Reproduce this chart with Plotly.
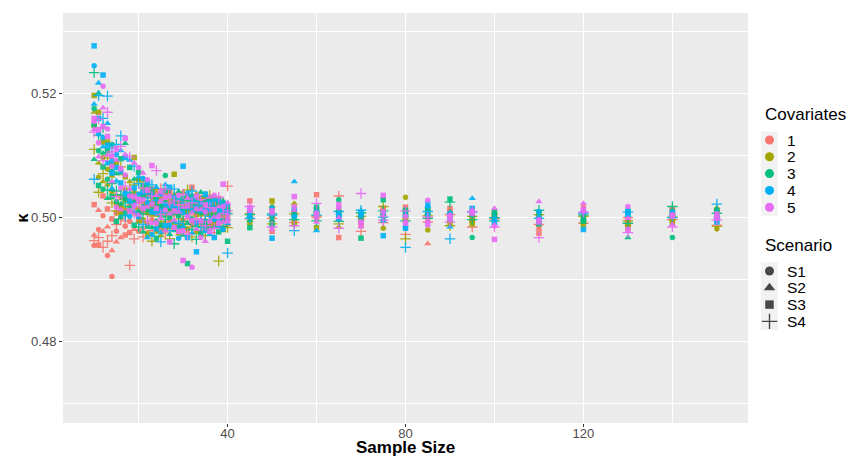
import plotly.graph_objects as go

# ---------------- data ----------------
sample_sizes = list(range(10, 41)) + [45, 50, 55, 60, 65, 70, 75, 80, 85, 90, 95, 100,
                                      110, 120, 130, 140, 150]
covariates = ["1", "2", "3", "4", "5"]
scenarios = ["S1", "S2", "S3", "S4"]

# each list: 20 kappa estimates ordered cov1 S1..S4, cov2 S1..S4, ..., cov5 S1..S4
kappa_n10 = [0.4955, 0.4972, 0.5021, 0.4963, 0.5148, 0.5170, 0.5197, 0.5110, 0.5176, 0.5094, 0.5150, 0.5234, 0.5245, 0.5183, 0.5277, 0.5062, 0.5155, 0.5142, 0.5160, 0.5138]
kappa_n11 = [0.4981, 0.5012, 0.4956, 0.4968, 0.5065, 0.5088, 0.5170, 0.5041, 0.5108, 0.5201, 0.5052, 0.5133, 0.5135, 0.5217, 0.5160, 0.5197, 0.5121, 0.5098, 0.5142, 0.5159]
kappa_n12 = [0.5003, 0.4978, 0.5035, 0.4952, 0.5097, 0.5058, 0.5122, 0.5071, 0.5046, 0.5104, 0.5082, 0.5145, 0.5129, 0.5114, 0.5230, 0.5160, 0.5212, 0.5177, 0.5147, 0.5092]
kappa_n13 = [0.4939, 0.4985, 0.5014, 0.4962, 0.5078, 0.5053, 0.5122, 0.5096, 0.5062, 0.5031, 0.5108, 0.5044, 0.5088, 0.5152, 0.5117, 0.5196, 0.5143, 0.5101, 0.5131, 0.5170]
kappa_n14 = [0.4905, 0.4947, 0.4998, 0.4971, 0.5042, 0.5067, 0.5085, 0.5024, 0.5118, 0.5076, 0.5034, 0.5055, 0.5091, 0.5047, 0.5072, 0.5112, 0.5083, 0.5058, 0.5099, 0.5106]
kappa_n15 = [0.4978, 0.4961, 0.5008, 0.4989, 0.5022, 0.5036, 0.5089, 0.5011, 0.5026, 0.5071, 0.4994, 0.5043, 0.5102, 0.5059, 0.5081, 0.5118, 0.5017, 0.5093, 0.5111, 0.5034]
kappa_n16 = [0.5032, 0.4968, 0.5017, 0.4998, 0.5008, 0.5071, 0.5019, 0.5082, 0.5001, 0.5022, 0.5095, 0.5037, 0.5074, 0.5108, 0.5056, 0.5132, 0.5048, 0.5013, 0.5079, 0.5115]
kappa_n17 = [0.4986, 0.5013, 0.4972, 0.4995, 0.5045, 0.5028, 0.5066, 0.5009, 0.5007, 0.5120, 0.5031, 0.5024, 0.5038, 0.5042, 0.5097, 0.5003, 0.5069, 0.5102, 0.5128, 0.5051]
kappa_n18 = [0.4994, 0.5021, 0.4976, 0.4923, 0.5033, 0.5058, 0.5012, 0.5047, 0.5014, 0.5039, 0.5081, 0.5018, 0.5002, 0.5093, 0.5027, 0.5036, 0.5035, 0.5046, 0.5011, 0.5098]
kappa_n19 = [0.5007, 0.4981, 0.5029, 0.4966, 0.5041, 0.5019, 0.5097, 0.5053, 0.5024, 0.5062, 0.4988, 0.5036, 0.5021, 0.5009, 0.5048, 0.5083, 0.5019, 0.5088, 0.5034, 0.5007]
kappa_n20 = [0.4978, 0.5016, 0.4997, 0.5032, 0.5027, 0.4993, 0.5061, 0.5014, 0.5009, 0.5008, 0.5073, 0.4985, 0.5038, 0.5066, 0.5002, 0.5055, 0.5081, 0.5004, 0.5029, 0.5023]
kappa_n21 = [0.5011, 0.4983, 0.5038, 0.4969, 0.5022, 0.5047, 0.4996, 0.5059, 0.5034, 0.4977, 0.5052, 0.5006, 0.5063, 0.5018, 0.5041, 0.4989, 0.5029, 0.5072, 0.5015, 0.5048]
kappa_n22 = [0.5043, 0.4992, 0.5019, 0.5005, 0.5008, 0.5036, 0.4974, 0.5027, 0.4986, 0.5051, 0.5013, 0.5039, 0.5024, 0.4968, 0.5057, 0.5032, 0.5061, 0.5017, 0.5044, 0.4995]
kappa_n23 = [0.4997, 0.5028, 0.5046, 0.4979, 0.5033, 0.5004, 0.5018, 0.4962, 0.5012, 0.4984, 0.5041, 0.5025, 0.4973, 0.5037, 0.5009, 0.5053, 0.5022, 0.4991, 0.5084, 0.5035]
kappa_n24 = [0.5024, 0.4986, 0.5039, 0.5012, 0.4978, 0.5021, 0.5006, 0.5045, 0.5031, 0.4995, 0.4967, 0.5018, 0.5007, 0.5049, 0.4982, 0.5028, 0.4992, 0.5036, 0.5015, 0.5076]
kappa_n25 = [0.5009, 0.5034, 0.4983, 0.5047, 0.5016, 0.4971, 0.5029, 0.4994, 0.5019, 0.5003, 0.4988, 0.5021, 0.5038, 0.4976, 0.5012, 0.4961, 0.5027, 0.4999, 0.5042, 0.5005]
kappa_n26 = [0.5031, 0.4992, 0.5018, 0.4975, 0.5004, 0.5039, 0.4981, 0.5013, 0.5068, 0.5026, 0.5044, 0.4997, 0.5021, 0.5053, 0.4987, 0.5008, 0.5012, 0.4979, 0.5033, 0.5046]
kappa_n27 = [0.4995, 0.5022, 0.5041, 0.5008, 0.5027, 0.4984, 0.5011, 0.4966, 0.5015, 0.4973, 0.5002, 0.5036, 0.4988, 0.5018, 0.5049, 0.4979, 0.5035, 0.5006, 0.4961, 0.5024]
kappa_n28 = [0.5016, 0.4981, 0.5029, 0.5003, 0.4992, 0.5037, 0.5070, 0.5014, 0.5008, 0.4979, 0.5024, 0.4958, 0.5033, 0.4995, 0.5019, 0.5046, 0.4984, 0.4996, 0.5011, 0.5027]
kappa_n29 = [0.5022, 0.4989, 0.5007, 0.5038, 0.5011, 0.4974, 0.5026, 0.4998, 0.4985, 0.5042, 0.5004, 0.5017, 0.4967, 0.5029, 0.5013, 0.4991, 0.5036, 0.5009, 0.4978, 0.5021]
kappa_n30 = [0.4996, 0.5027, 0.5012, 0.4983, 0.5019, 0.5041, 0.4987, 0.5006, 0.5032, 0.4972, 0.5015, 0.4994, 0.5008, 0.4986, 0.5083, 0.5024, 0.4979, 0.5017, 0.4931, 0.5038]
kappa_n31 = [0.5013, 0.4977, 0.5034, 0.4998, 0.4982, 0.5023, 0.5009, 0.5045, 0.5017, 0.4991, 0.4926, 0.5028, 0.5039, 0.5004, 0.4968, 0.5015, 0.5002, 0.5031, 0.5019, 0.4973]
kappa_n32 = [0.4988, 0.5015, 0.5049, 0.5006, 0.5027, 0.4993, 0.5012, 0.4969, 0.4998, 0.5036, 0.5021, 0.4981, 0.5011, 0.4975, 0.5029, 0.5043, 0.4920, 0.5008, 0.4995, 0.5024]
kappa_n33 = [0.5021, 0.4994, 0.5006, 0.5032, 0.5004, 0.5038, 0.4978, 0.5016, 0.5029, 0.4987, 0.5011, 0.4965, 0.4992, 0.5018, 0.4945, 0.5026, 0.5014, 0.4981, 0.5035, 0.4998]
kappa_n34 = [0.4992, 0.5026, 0.5018, 0.4979, 0.5014, 0.4986, 0.5032, 0.5003, 0.5008, 0.5041, 0.4974, 0.5019, 0.5023, 0.4997, 0.5012, 0.4984, 0.4968, 0.5013, 0.4995, 0.5029]
kappa_n35 = [0.5017, 0.4983, 0.5029, 0.5004, 0.4995, 0.5022, 0.5011, 0.4971, 0.5026, 0.5007, 0.4989, 0.5034, 0.4979, 0.5015, 0.5038, 0.4996, 0.5009, 0.4962, 0.5021, 0.4987]
kappa_n36 = [0.5004, 0.5021, 0.4986, 0.5013, 0.5028, 0.4991, 0.5007, 0.5036, 0.4982, 0.5019, 0.5031, 0.4997, 0.5012, 0.4973, 0.5024, 0.5002, 0.4994, 0.5033, 0.4978, 0.5016]
kappa_n37 = [0.4989, 0.5011, 0.5023, 0.4976, 0.5017, 0.5032, 0.4993, 0.5008, 0.5014, 0.4985, 0.5003, 0.5027, 0.4997, 0.5029, 0.4968, 0.5018, 0.5036, 0.5001, 0.5013, 0.4983]
kappa_n38 = [0.5012, 0.4994, 0.5031, 0.5006, 0.4988, 0.5021, 0.5009, 0.4930, 0.5023, 0.5004, 0.4977, 0.5015, 0.5028, 0.4985, 0.5011, 0.4996, 0.5002, 0.5018, 0.4991, 0.5033]
kappa_n39 = [0.4997, 0.5015, 0.4983, 0.5024, 0.5006, 0.4979, 0.5019, 0.5002, 0.5011, 0.5027, 0.4995, 0.4986, 0.4981, 0.5008, 0.5022, 0.5013, 0.5018, 0.4993, 0.5054, 0.5007]
kappa_n40 = [0.5008, 0.4989, 0.5017, 0.5051, 0.4996, 0.5012, 0.5003, 0.4984, 0.5014, 0.4998, 0.4962, 0.5006, 0.5021, 0.4991, 0.5009, 0.4943, 0.5003, 0.5024, 0.4995, 0.5011]
kappa_n45 = [0.5009, 0.5004, 0.5027, 0.4998, 0.5003, 0.5011, 0.4992, 0.5006, 0.5001, 0.4996, 0.4984, 0.5005, 0.5007, 0.5002, 0.5012, 0.4999, 0.5014, 0.5010, 0.5016, 0.5018]
kappa_n50 = [0.4995, 0.5003, 0.4978, 0.4999, 0.5013, 0.5019, 0.5027, 0.4990, 0.5002, 0.4996, 0.4988, 0.5006, 0.5016, 0.5009, 0.4967, 0.5004, 0.5008, 0.4981, 0.5011, 0.4985]
kappa_n55 = [0.5003, 0.4996, 0.5008, 0.4992, 0.5011, 0.5023, 0.4990, 0.5006, 0.5000, 0.5005, 0.5009, 0.4997, 0.5002, 0.5058, 0.5014, 0.4979, 0.5018, 0.5012, 0.5034, 0.4987]
kappa_n60 = [0.4998, 0.5005, 0.5037, 0.5001, 0.5007, 0.5010, 0.4984, 0.5003, 0.5015, 0.5012, 0.5017, 0.4995, 0.5006, 0.4979, 0.5009, 0.5004, 0.5008, 0.4993, 0.5002, 0.5023]
kappa_n65 = [0.5002, 0.4997, 0.4968, 0.5035, 0.5011, 0.4985, 0.5008, 0.4990, 0.5029, 0.5013, 0.5005, 0.4994, 0.5003, 0.5007, 0.4999, 0.5010, 0.5016, 0.5000, 0.5021, 0.4983]
kappa_n70 = [0.4993, 0.5001, 0.4988, 0.4978, 0.5004, 0.5009, 0.4996, 0.5002, 0.5006, 0.4998, 0.4967, 0.5008, 0.5010, 0.5003, 0.5005, 0.5012, 0.4991, 0.4985, 0.4993, 0.5039]
kappa_n75 = [0.5013, 0.5006, 0.5015, 0.4992, 0.4983, 0.5002, 0.5009, 0.5018, 0.5004, 0.4998, 0.5029, 0.5011, 0.5007, 0.4995, 0.4971, 0.5001, 0.5010, 0.5003, 0.5036, 0.4996]
kappa_n80 = [0.5005, 0.5001, 0.5017, 0.4973, 0.5033, 0.4998, 0.5008, 0.4966, 0.5009, 0.5003, 0.5012, 0.4995, 0.4986, 0.5006, 0.4983, 0.4952, 0.5002, 0.4994, 0.4991, 0.5011]
kappa_n85 = [0.4997, 0.4958, 0.5002, 0.4993, 0.4980, 0.5006, 0.5009, 0.5003, 0.5012, 0.5008, 0.5015, 0.4999, 0.5004, 0.5018, 0.5022, 0.5010, 0.5028, 0.4995, 0.4989, 0.5001]
kappa_n90 = [0.5012, 0.5008, 0.5015, 0.5005, 0.4994, 0.5003, 0.4991, 0.4987, 0.5002, 0.5009, 0.5030, 0.5025, 0.4998, 0.4985, 0.5006, 0.4966, 0.5004, 0.4997, 0.5001, 0.4993]
kappa_n95 = [0.5001, 0.4996, 0.5004, 0.4985, 0.4994, 0.4999, 0.4990, 0.5002, 0.4968, 0.5003, 0.5007, 0.4997, 0.5013, 0.5031, 0.5015, 0.5009, 0.5011, 0.5006, 0.5008, 0.5010]
kappa_n100 = [0.5008, 0.5003, 0.5006, 0.4998, 0.5001, 0.4997, 0.5004, 0.4999, 0.5005, 0.5002, 0.5009, 0.4995, 0.4993, 0.4991, 0.4996, 0.5000, 0.4987, 0.5015, 0.4965, 0.4985]
kappa_n110 = [0.4986, 0.4982, 0.4975, 0.4989, 0.5003, 0.5001, 0.5007, 0.5005, 0.5009, 0.5006, 0.4990, 0.5012, 0.5010, 0.5002, 0.4996, 0.4999, 0.4997, 0.5026, 0.4993, 0.4968]
kappa_n120 = [0.5017, 0.5010, 0.5005, 0.4991, 0.5000, 0.4997, 0.4988, 0.5002, 0.4995, 0.4993, 0.4998, 0.5004, 0.5008, 0.5012, 0.4981, 0.5007, 0.5014, 0.5023, 0.5011, 0.5009]
kappa_n130 = [0.4993, 0.4997, 0.4989, 0.5000, 0.4986, 0.4990, 0.4984, 0.4995, 0.5008, 0.4968, 0.5010, 0.4991, 0.5012, 0.5004, 0.5006, 0.5009, 0.5018, 0.4999, 0.4981, 0.4976]
kappa_n140 = [0.5015, 0.5008, 0.5012, 0.4997, 0.4995, 0.4999, 0.4992, 0.5001, 0.4968, 0.5004, 0.5010, 0.5018, 0.5009, 0.5006, 0.5003, 0.5000, 0.5005, 0.4989, 0.5002, 0.4985]
kappa_n150 = [0.5004, 0.5001, 0.4995, 0.4988, 0.4982, 0.5016, 0.5012, 0.4986, 0.5013, 0.5011, 0.5009, 0.5007, 0.4998, 0.5003, 0.4993, 0.5022, 0.4999, 0.5002, 0.5006, 0.4996]

kappa_by_size = [kappa_n10, kappa_n11, kappa_n12, kappa_n13, kappa_n14, kappa_n15, kappa_n16,
                 kappa_n17, kappa_n18, kappa_n19, kappa_n20, kappa_n21, kappa_n22, kappa_n23,
                 kappa_n24, kappa_n25, kappa_n26, kappa_n27, kappa_n28, kappa_n29, kappa_n30,
                 kappa_n31, kappa_n32, kappa_n33, kappa_n34, kappa_n35, kappa_n36, kappa_n37,
                 kappa_n38, kappa_n39, kappa_n40, kappa_n45, kappa_n50, kappa_n55, kappa_n60,
                 kappa_n65, kappa_n70, kappa_n75, kappa_n80, kappa_n85, kappa_n90, kappa_n95,
                 kappa_n100, kappa_n110, kappa_n120, kappa_n130, kappa_n140, kappa_n150]

x_ticks = [40, 80, 120]
y_ticks = [0.48, 0.50, 0.52]

# ---------------- styles ----------------
cov_colors = ["#F8766D", "#A3A500", "#00BF7D", "#00B0F6", "#E76BF3"]
scen_symbols = ["circle", "triangle-up", "square", "cross-thin"]
scen_sizes = [5.5, 6.5, 5.5, 7.5]
FONT = "Liberation Sans, Arial, Helvetica, sans-serif"

W, H = 849, 457
L, T, B = 63, 13, 34           # panel margins (px)
PANEL_R = 748                  # panel right edge (px)
plot_w = W - L                 # plotting area width (right margin 0)
plot_h = H - T - B
main_frac = (PANEL_R - L) / plot_w

fig = go.Figure()

# panel background
fig.add_shape(type="rect", xref="x domain", yref="y domain", x0=0, x1=1, y0=0, y1=1,
              fillcolor="#EBEBEB", line=dict(width=0), layer="below")

for ci, cov in enumerate(covariates):
    for si, sc in enumerate(scenarios):
        idx = ci * 4 + si
        ys = [col[idx] for col in kappa_by_size]
        fig.add_trace(go.Scatter(
            x=sample_sizes, y=ys, mode="markers", showlegend=False,
            marker=dict(symbol=scen_symbols[si], size=scen_sizes[si],
                        color=cov_colors[ci], opacity=0.9,
                        line=dict(width=1.3 if si == 3 else 0, color=cov_colors[ci])),
            hovertemplate=f"Cov {cov}, {sc}<br>n=%{{x}}<br>κ=%{{y}}<extra></extra>",
        ))

# ---------------- manual ggplot-style legend (on a pixel-coordinate helper axis) ----------------
key_x = 769.5
cov_key_y = [140.0, 156.8, 173.6, 190.4, 207.2]
scen_key_y = [271.0, 287.8, 304.6, 321.4]
key_half = 8.6
annotations = []

for y in cov_key_y + scen_key_y:
    fig.add_shape(type="rect", xref="x2", yref="y2", x0=key_x - key_half, x1=key_x + key_half,
                  y0=y - key_half, y1=y + key_half, fillcolor="#F2F2F2", line=dict(width=0),
                  layer="below")

fig.add_trace(go.Scatter(
    x=[key_x] * len(covariates), y=cov_key_y, xaxis="x2", yaxis="y2", mode="markers",
    showlegend=False, hoverinfo="skip",
    marker=dict(symbol="circle", size=9, color=cov_colors),
))
fig.add_trace(go.Scatter(
    x=[key_x] * len(scenarios), y=scen_key_y, xaxis="x2", yaxis="y2", mode="markers",
    showlegend=False, hoverinfo="skip",
    marker=dict(symbol=scen_symbols, size=[9, 10, 8.5, 11], color="black",
                line=dict(width=[0, 0, 0, 1.4], color="black")),
))

annotations.append(dict(text="Covariates", x=762.5, y=114.5, xref="x2", yref="y2",
                        xanchor="left", yanchor="middle", showarrow=False,
                        font=dict(size=17, color="black", family=FONT)))
annotations.append(dict(text="Scenario", x=762.5, y=245.0, xref="x2", yref="y2",
                        xanchor="left", yanchor="middle", showarrow=False,
                        font=dict(size=17, color="black", family=FONT)))
for lab, y in zip(covariates, cov_key_y):
    annotations.append(dict(text=lab, x=784.5, y=y, xref="x2", yref="y2",
                            xanchor="left", yanchor="middle", showarrow=False,
                            font=dict(size=15.5, color="black", family=FONT)))
for lab, y in zip(scenarios, scen_key_y):
    annotations.append(dict(text=lab, x=784.5, y=y, xref="x2", yref="y2",
                            xanchor="left", yanchor="middle", showarrow=False,
                            font=dict(size=15.5, color="black", family=FONT)))

# axis titles (paper coordinates)
annotations.append(dict(text="<b>Sample Size</b>", x=0.5, xref="x domain",
                        y=-(447.5 - (H - B)) / plot_h, yref="paper",
                        xanchor="center", yanchor="middle", showarrow=False, borderpad=0,
                        font=dict(size=17, color="black", family=FONT)))
annotations.append(dict(text="<b>κ</b>", x=(21.5 - L) / plot_w, xref="paper", y=0.5, yref="paper",
                        xanchor="center", yanchor="middle", showarrow=False, textangle=-90,
                        font=dict(size=16, color="black", family=FONT)))

fig.update_layout(
    width=W, height=H,
    margin=dict(l=L, r=0, t=T, b=B, autoexpand=False),
    paper_bgcolor="white", plot_bgcolor="rgba(0,0,0,0)",
    font=dict(family=FONT, size=13, color="#4D4D4D"),
    showlegend=False,
    annotations=annotations,
    xaxis=dict(domain=[0, main_frac], range=[3, 157], tickvals=x_ticks,
               ticktext=[str(v) for v in x_ticks], automargin=False,
               showgrid=True, gridcolor="white", gridwidth=1.1, zeroline=False,
               ticks="outside", ticklen=3, tickcolor="#333333", tickwidth=1,
               ticklabelstandoff=-5,
               tickfont=dict(size=13, color="#4D4D4D"),
               minor=dict(tickvals=[20, 60, 100, 140], showgrid=True, gridcolor="white",
                          gridwidth=0.55, ticks="")),
    yaxis=dict(range=[0.4669, 0.5330], tickvals=y_ticks,
               ticktext=[f"{v:.2f}" for v in y_ticks], automargin=False,
               showgrid=True, gridcolor="white", gridwidth=1.1, zeroline=False,
               ticks="outside", ticklen=3, tickcolor="#333333", tickwidth=1,
               tickfont=dict(size=13, color="#4D4D4D"),
               minor=dict(tickvals=[0.47, 0.49, 0.51, 0.53], showgrid=True, gridcolor="white",
                          gridwidth=0.55, ticks="")),
    xaxis2=dict(domain=[main_frac, 1], range=[PANEL_R, W], visible=False, fixedrange=True),
    yaxis2=dict(anchor="x2", range=[H - B, T], visible=False, fixedrange=True),
)

fig.write_html("out.html")
